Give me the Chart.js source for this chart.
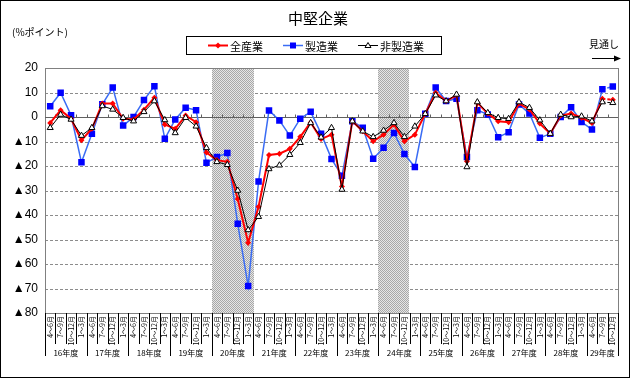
<!DOCTYPE html>
<html>
<head>
<meta charset="utf-8">
<script src="https://cdn.jsdelivr.net/npm/chart.js@4"></script>
<style>
  body { margin: 0; background: #fff; }
  canvas { display: block; }
</style>
</head>
<body>
<canvas id="myChart" width="630" height="378"></canvas>
<script>
// 年度と四半期
const years = ['16年度', '17年度', '18年度', '19年度', '20年度', '21年度', '22年度',
  '23年度', '24年度', '25年度', '26年度', '27年度', '28年度', '29年度'];
const quarters = ['4～6月', '7～9月', '10～12月', '1～3月'];
const lastYearQuarters = 3; // 29年度は10～12月まで(見通し)

const allIndustry = [-2.4, 2.8, -0.7, -9.5, -4.8, 5.5, 5.5, -0.7, -1, 3, 7.9, -3.1, -4.8, 0.6, -2.1,
  -14.5, -17.6, -18.3, -33.5, -51.3, -36.6, -15.5, -15, -13, -8.1, -2.2, -9, -7.2, -28.4, -1.7,
  -5.8, -9.9, -7.2, -3.1, -9.9, -7.2, 1.3, 9.9, 6.5, 8.8, -18.1, 5.8, 1.4, -1.7, -2.1, 5.5, 3.1,
  -2.7, -6.8, 0.6, 1.4, -0.3, -2.4, 7.4, 7];
const manufacturing = [4.4, 9.9, 0.7, -18.5, -6.8, 5.2, 12, -3.5, 0, 6.9, 12.6, -8.9, -1, 3.8, 2.8,
  -18.7, -16.3, -14.7, -43.6, -69, -26.3, 2.7, -1.4, -7.6, -0.7, 2.1, -6.8, -17.1, -24, -1.7,
  -4.4, -17, -12.6, -6.5, -15.1, -20.4, 1.3, 12, 6.5, 7.4, -16.3, 2.8, 1, -8.3, -6.2, 5.1, 1.4,
  -8.5, -6.8, 0, 4, -2, -5.1, 11.3, 12.4];
const nonManufacturing = [-4.4, 1, -1, -7.6, -4.4, 4.5, 3.1, -0.3, -1.7, 2.1, 6.5, -1.2, -6.5, -0.3, -3.8,
  -12.6, -18.3, -19.5, -30, -46.1, -40.7, -21.2, -19.7, -15.4, -10.5, -2.4, -8.3, -4.4, -29.6, -1.7,
  -5.8, -8.1, -5.5, -2.4, -8.1, -3.8, 1.3, 8.9, 6.5, 9.2, -20.4, 6.1, 1.7, -0.3, -0.7, 6.1, 3.8,
  -1.3, -6.8, 1, 0, 0.3, -1.7, 6.1, 5.8];

const yTicks = [20, 10, 0, -10, -20, -30, -40, -50, -60, -70, -80];
// 網掛け期間 (開始, 終了のカテゴリ番号)
const shaded = [[16, 19], [32, 34]];

const labels = [];
const quarterOf = [];
years.forEach((yr, i) => {
  const n = i === years.length - 1 ? lastYearQuarters : 4;
  for (let q = 0; q < n; q++) {
    labels.push(yr + quarters[q]);
    quarterOf.push(q);
  }
});
const forecastIndex = labels.length - 1;

// 網掛けパターン
const pc = document.createElement('canvas');
pc.width = 2; pc.height = 2;
const pctx = pc.getContext('2d');
pctx.fillStyle = '#e6e6e6'; pctx.fillRect(0, 0, 2, 2);
pctx.fillStyle = '#a8a8a8'; pctx.fillRect(0, 0, 1, 1); pctx.fillRect(1, 1, 1, 1);

const jp = '"Noto Sans CJK JP", sans-serif';

function dashLast(ctx) {
  return ctx.p1DataIndex === forecastIndex ? [3, 2] : undefined;
}

const decor = {
  id: 'decor',
  beforeDatasetsDraw(chart) {
    const { ctx, chartArea: a, scales: { x, y } } = chart;
    const w = (a.right - a.left) / labels.length;
    ctx.save();
    // グリッド
    ctx.strokeStyle = '#8c8c8c';
    ctx.lineWidth = 1;
    ctx.setLineDash([3, 2]);
    yTicks.forEach(v => {
      if (v === 0 || v === 20 || v === -80) return;
      const py = Math.round(y.getPixelForValue(v)) + 0.5;
      ctx.beginPath(); ctx.moveTo(a.left, py); ctx.lineTo(a.right, py); ctx.stroke();
    });
    ctx.setLineDash([]);
    // 網掛け
    ctx.fillStyle = ctx.createPattern(pc, 'repeat');
    shaded.forEach(([s, e]) => {
      const x0 = x.getPixelForValue(s) - w / 2;
      ctx.fillRect(Math.round(x0), a.top, Math.round(w * (e - s + 1)), a.bottom - a.top);
    });
    // 枠
    ctx.strokeStyle = '#808080';
    ctx.strokeRect(Math.round(a.left) + 0.5, Math.round(a.top) + 0.5,
      Math.round(a.right - a.left), Math.round(a.bottom - a.top));
    // ゼロ線と目盛
    const zy = Math.round(y.getPixelForValue(0)) + 0.5;
    ctx.strokeStyle = '#606060';
    ctx.beginPath(); ctx.moveTo(a.left, zy); ctx.lineTo(a.right, zy); ctx.stroke();
    for (let i = 1; i < labels.length; i++) {
      const px = Math.round(x.getPixelForValue(i) - w / 2) + 0.5;
      ctx.beginPath(); ctx.moveTo(px, zy - 3); ctx.lineTo(px, zy); ctx.stroke();
    }
    ctx.restore();
  },
  afterDraw(chart) {
    const { ctx, chartArea: a, scales: { x } } = chart;
    const w = (a.right - a.left) / labels.length;
    ctx.save();
    // 横軸ラベル
    ctx.strokeStyle = '#000';
    ctx.lineWidth = 1;
    ctx.fillStyle = '#000';
    ctx.font = '7px ' + jp;
    labels.forEach((lab, i) => {
      const cx = x.getPixelForValue(i);
      ctx.save();
      ctx.translate(cx, a.bottom + 3);
      ctx.rotate(-Math.PI / 2);
      ctx.textAlign = 'right';
      ctx.textBaseline = 'middle';
      ctx.fillText(quarters[quarterOf[i]], 0, 0);
      ctx.restore();
      const ex = Math.round(cx - w / 2) + 0.5;
      const long = quarterOf[i] === 0;
      if (i > 0 || true) {
        ctx.beginPath(); ctx.moveTo(ex, a.bottom); ctx.lineTo(ex, a.bottom + (long ? 43 : 31)); ctx.stroke();
      }
    });
    const endX = Math.round(a.right) + 0.5;
    ctx.beginPath(); ctx.moveTo(endX, a.bottom); ctx.lineTo(endX, a.bottom + 43); ctx.stroke();
    // 年度ラベル
    ctx.font = '8px ' + jp;
    ctx.textAlign = 'center';
    ctx.textBaseline = 'middle';
    let idx = 0;
    years.forEach((yr, i) => {
      const n = i === years.length - 1 ? lastYearQuarters : 4;
      const cx = (x.getPixelForValue(idx) + x.getPixelForValue(idx + n - 1)) / 2;
      ctx.fillText(yr, cx, a.bottom + 40);
      idx += n;
    });
    // タイトル
    ctx.font = '15px ' + jp;
    ctx.fillText('中堅企業', 318, 18);
    ctx.font = '10px ' + jp;
    ctx.textAlign = 'left';
    ctx.fillText('(%ポイント)', 12, 32);
    // 見通し
    ctx.fillText('見通し', 589, 44);
    ctx.beginPath(); ctx.moveTo(592, 58.5); ctx.lineTo(618, 58.5); ctx.stroke();
    ctx.beginPath(); ctx.moveTo(621, 58.5); ctx.lineTo(614, 55.5); ctx.lineTo(614, 61.5); ctx.closePath(); ctx.fill();
    // 凡例
    ctx.strokeStyle = '#000';
    ctx.strokeRect(186.5, 36.5, 255, 18);
    const items = [
      { t: '全産業', c: '#ff0000', x: 208, style: 'diamond' },
      { t: '製造業', c: '#3a6cf4', x: 283, style: 'square' },
      { t: '非製造業', c: '#000000', x: 358, style: 'triangle' }
    ];
    items.forEach(it => {
      const ly = 45.5;
      ctx.strokeStyle = it.c;
      ctx.lineWidth = it.style === 'diamond' ? 2 : (it.style === 'square' ? 1.5 : 1);
      ctx.beginPath(); ctx.moveTo(it.x, ly); ctx.lineTo(it.x + 20, ly); ctx.stroke();
      const mx = it.x + 10;
      ctx.lineWidth = 1;
      if (it.style === 'diamond') {
        ctx.fillStyle = '#ff0000';
        ctx.beginPath(); ctx.moveTo(mx, ly - 3); ctx.lineTo(mx + 3, ly); ctx.lineTo(mx, ly + 3); ctx.lineTo(mx - 3, ly); ctx.closePath(); ctx.fill();
      } else if (it.style === 'square') {
        ctx.fillStyle = '#0000ff';
        ctx.fillRect(mx - 3, ly - 3, 6, 6);
      } else {
        ctx.fillStyle = '#fff';
        ctx.strokeStyle = '#000';
        ctx.beginPath(); ctx.moveTo(mx, ly - 3); ctx.lineTo(mx + 3, ly + 2); ctx.lineTo(mx - 3, ly + 2); ctx.closePath(); ctx.fill(); ctx.stroke();
      }
      ctx.fillStyle = '#000';
      ctx.font = '11px ' + jp;
      ctx.fillText(it.t, it.x + 22, ly + 1);
    });
    // 外枠
    ctx.strokeStyle = '#000';
    ctx.lineWidth = 1;
    ctx.strokeRect(0.5, 0.5, 629, 377);
    ctx.restore();
  }
};

new Chart('myChart', {
  type: 'line',
  data: {
    labels: labels,
    datasets: [
      {
        label: '全産業',
        data: allIndustry,
        borderColor: '#ff0000',
        backgroundColor: '#ff0000',
        borderWidth: 2,
        pointStyle: 'rectRot',
        pointRadius: 3,
        pointBorderWidth: 0,
        pointBackgroundColor: '#ff0000',
        tension: 0,
        order: 2,
        segment: { borderDash: dashLast }
      },
      {
        label: '製造業',
        data: manufacturing,
        borderColor: '#3a6cf4',
        backgroundColor: '#0000ff',
        borderWidth: 1.5,
        pointStyle: 'rect',
        pointRadius: 4.6,
        pointBorderWidth: 0,
        pointBackgroundColor: '#0000ff',
        tension: 0,
        order: 3,
        segment: { borderDash: dashLast }
      },
      {
        label: '非製造業',
        data: nonManufacturing,
        borderColor: '#000000',
        backgroundColor: '#ffffff',
        borderWidth: 1,
        pointStyle: 'triangle',
        pointRadius: 3.5,
        pointBorderWidth: 1,
        pointBorderColor: '#000000',
        pointBackgroundColor: '#ffffff',
        tension: 0,
        order: 1,
        segment: { borderDash: dashLast }
      }
    ]
  },
  options: {
    responsive: false,
    animation: false,
    devicePixelRatio: 1,
    layout: { padding: { left: 0, top: 68, right: 12, bottom: 65 } },
    plugins: {
      legend: { display: false },
      title: { display: false },
      tooltip: { enabled: false }
    },
    scales: {
      x: {
        type: 'category',
        offset: true,
        grid: { display: false, drawTicks: false },
        border: { display: false },
        ticks: { display: false },
        afterFit: s => { s.height = 0; }
      },
      y: {
        min: -80,
        max: 20,
        grid: { display: false, drawTicks: false },
        border: { display: false },
        afterFit: s => { s.width = 45; },
        afterBuildTicks: s => { s.ticks = yTicks.map(v => ({ value: v })); },
        ticks: {
          padding: 7,
          color: '#000',
          font: { family: '"Liberation Sans", Arial, sans-serif', size: 12 },
          callback: v => (v < 0 ? '▲' + (-v) : String(v))
        }
      }
    }
  },
  plugins: [decor]
});
</script>
</body>
</html>
